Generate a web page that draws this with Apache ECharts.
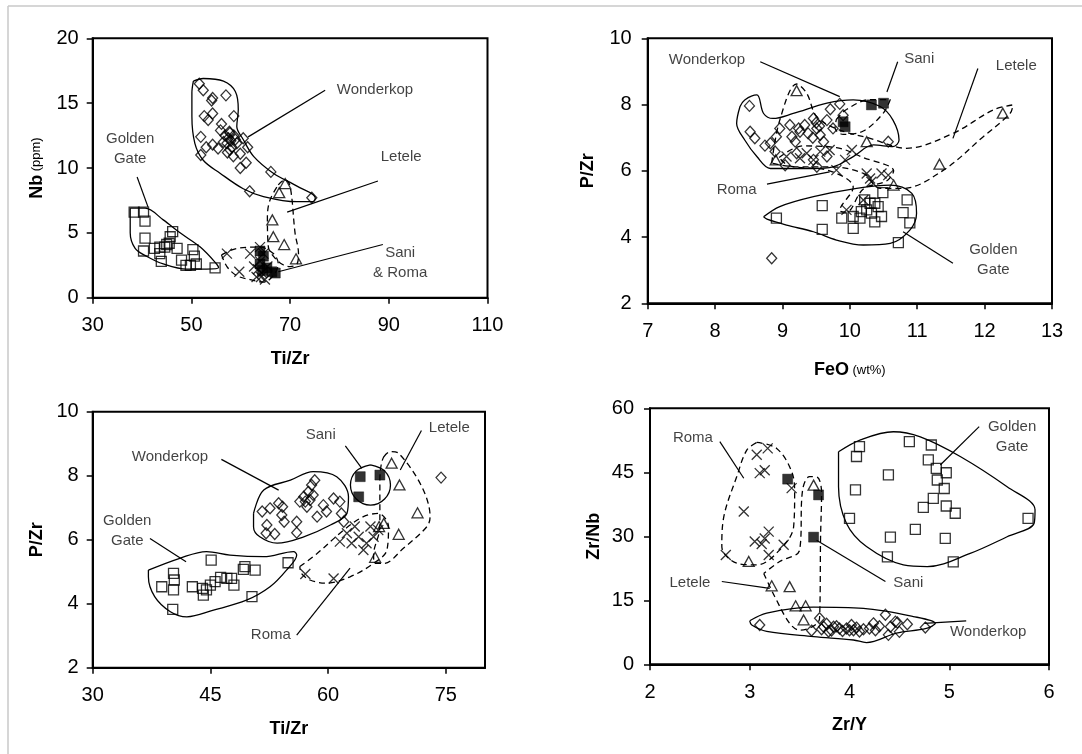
<!DOCTYPE html>
<html>
<head>
<meta charset="utf-8">
<script src="https://cdn.jsdelivr.net/npm/echarts@6/dist/echarts.min.js"></script>
<style>
html,body{margin:0;padding:0;background:#fff;}
#chart{width:1082px;height:754px;}
</style>
</head>
<body>
<div id="chart"></div>
<script>
// ===== Panel 1: Nb vs Ti/Zr =====
const p1_wonderkop = [[51.6,16.5],[52.4,16.0],[54.3,15.4],[54.1,15.2],[57.0,15.6],[52.6,14.0],[53.4,13.7],[54.3,14.2],[56.1,13.4],[58.6,14.0],[51.9,12.4],[53.0,11.6],[54.3,11.8],[55.4,11.5],[57.8,12.7],[57.8,11.4],[58.5,10.9],[60.5,12.3],[61.4,11.6],[59.9,11.1],[51.9,11.0],[61.1,10.4],[59.9,10.0],[66.1,9.7],[61.8,8.2],[74.4,7.7],[56.8,12.5],[57.5,12.3],[57.2,11.9],[58.2,11.6],[56.5,12.0],[57.7,12.8],[55.9,12.9],[58.9,12.2],[59.2,11.9],[58.6,12.5],[57.3,11.2],[58.0,12.1]];
const p1_golden = [[38.4,6.6],[40.3,6.6],[40.6,5.9],[40.6,4.6],[40.3,3.6],[42.5,3.8],[43.6,3.9],[43.9,2.8],[45.0,4.1],[44.6,3.9],[45.7,4.7],[46.2,5.1],[45.5,4.2],[47.1,3.8],[48.0,2.9],[48.9,2.5],[49.8,2.5],[50.3,3.7],[50.6,3.2],[51.0,2.6],[54.8,2.3],[43.6,3.4]];
const p1_letele = [[69.0,8.8],[67.8,8.1],[66.4,6.0],[66.6,4.7],[68.8,4.1],[71.2,3.0]];
const p1_roma = [[57.2,3.4],[59.7,2.0],[61.9,3.4],[62.7,2.4],[63.2,1.6],[63.9,2.8],[64.3,1.9],[64.6,3.4],[64.9,1.4],[65.4,2.4],[63.9,3.9],[63.5,2.2],[64.1,1.6]];
const p1_sani = [[63.9,3.6],[63.9,2.6],[64.6,3.2],[66.3,2.0],[67.0,1.9],[65.3,2.3],[64.4,2.1]];
const p1_env_wonderkop = [[50.4,16.7],[52.4,16.9],[56.5,16.7],[58.9,15.9],[59.5,14.5],[59.2,13.2],[60.5,12.2],[62.6,10.9],[66.6,9.6],[71.4,8.6],[75.1,7.7],[74.7,7.4],[71.4,7.4],[64.6,7.8],[60.5,8.4],[55.8,9.6],[52.4,10.6],[50.7,11.9],[50.1,14.0],[50.1,15.8],[50.4,16.7]];
const p1_env_golden = [[37.6,6.9],[40.6,6.9],[44.3,6.0],[47.7,5.0],[51.8,3.9],[55.1,2.6],[55.5,2.3],[53.1,2.2],[49.1,2.2],[44.3,2.6],[40.9,3.2],[38.6,3.8],[37.6,5.0],[37.6,6.6],[37.6,6.9]];
const p1_env_letele = [[67.6,8.7],[69.0,9.1],[70.0,8.6],[71.0,5.0],[71.7,3.4],[71.4,2.6],[70.0,2.4],[68.3,2.6],[66.6,3.2],[65.6,3.9],[65.4,6.2],[65.9,7.5],[67.6,8.7]];
const p1_env_roma = [[56.1,3.3],[59.2,3.8],[63.9,3.9],[66.6,3.4],[67.6,2.6],[66.6,1.7],[64.6,1.2],[61.9,1.4],[59.2,1.7],[57.2,2.4],[56.1,3.3]];
const p1_leaders = [[[77.1,16.0],[61.5,12.4]],[[87.8,9.0],[69.4,6.6]],[[88.8,4.1],[67.6,2.0]],[[39.0,9.3],[41.2,7.0]]];
const p1_label_text = ['Wonderkop','Letele','Golden\nGate','Sani\n& Roma'];
const p1_label_pos = [[87.2,16.0],[92.5,10.85],[37.6,11.5],[92.3,2.71]];

// ===== Panel 2: P/Zr vs FeO =====
const p2_wonderkop = [[8.51,7.96],[8.52,7.18],[8.59,6.98],[8.74,6.76],[8.82,6.83],[8.89,6.58],[8.91,7.03],[8.96,7.28],[9.04,6.17],[9.11,7.38],[9.14,7.03],[9.19,6.88],[9.24,7.28],[9.33,7.38],[9.38,7.13],[9.46,7.58],[9.51,7.28],[9.56,7.08],[9.61,6.88],[9.66,7.53],[9.71,7.86],[9.75,7.28],[9.85,8.02],[9.90,7.68],[10.57,6.88],[9.66,6.43],[9.46,6.33],[9.51,6.12],[9.21,6.53],[8.84,3.36],[9.26,7.18],[9.50,7.45],[9.55,7.35],[9.45,7.00]];
const p2_golden = [[8.91,4.57],[9.59,4.95],[9.59,4.23],[9.88,4.57],[10.05,4.26],[10.05,4.62],[10.15,4.57],[10.22,5.12],[10.25,4.82],[10.30,5.02],[10.32,4.72],[10.37,4.46],[10.42,4.92],[10.47,4.62],[10.49,5.34],[10.72,3.83],[10.79,4.74],[10.85,5.12],[10.89,4.43],[10.17,4.77],[10.37,5.02]];
const p2_letele = [[9.21,8.42],[8.90,6.33],[10.25,6.88],[11.33,6.20],[10.65,5.57],[12.27,7.74]];
const p2_roma = [[9.26,6.38],[9.46,6.33],[9.56,6.58],[9.70,6.63],[9.80,6.02],[9.93,6.33],[10.03,6.63],[10.25,5.92],[10.30,5.77],[10.47,5.92],[10.57,5.87],[10.32,5.67],[9.95,4.82],[10.20,5.12],[9.06,6.43],[9.36,6.53]];
const p2_sani = [[10.32,7.99],[10.50,8.04],[9.93,7.33],[9.90,7.48]];
const p2_env_wonderkop = [[8.37,7.94],[8.44,8.14],[8.62,8.29],[8.72,7.73],[8.86,7.58],[9.16,7.73],[9.66,8.04],[10.05,8.14],[10.45,7.94],[10.64,7.53],[10.73,6.93],[10.64,6.73],[10.35,6.78],[10.05,6.43],[9.75,6.12],[9.46,6.07],[9.16,6.07],[8.82,6.07],[8.62,6.43],[8.44,6.93],[8.32,7.43],[8.37,7.94]];
const p2_env_golden = [[8.72,4.61],[8.96,4.92],[9.46,5.22],[10.10,5.47],[10.60,5.57],[10.92,5.32],[10.99,4.72],[10.89,4.21],[10.60,3.81],[10.20,3.76],[9.80,3.91],[9.46,4.16],[9.06,4.36],[8.77,4.54],[8.72,4.61]];
const p2_env_letele = [[8.84,6.23],[8.96,7.53],[9.21,8.62],[9.36,8.34],[9.51,7.63],[9.85,7.23],[10.30,6.98],[10.84,6.68],[11.53,7.13],[12.13,7.84],[12.42,7.99],[12.38,7.74],[11.98,7.03],[11.39,6.02],[10.79,5.47],[10.45,5.47],[10.20,5.92],[9.70,6.12],[9.21,6.12],[8.84,6.23]];
const p2_env_roma = [[8.95,6.40],[9.30,6.75],[9.80,6.70],[10.20,6.40],[10.65,6.00],[10.55,5.70],[10.20,5.45],[9.95,4.75],[9.85,4.80],[10.05,5.50],[9.70,6.00],[9.10,6.15],[8.95,6.40]];
const p2_env_sani = [[9.80,7.55],[9.95,7.85],[10.30,8.15],[10.60,8.15],[10.50,7.75],[10.20,7.20],[9.90,7.10],[9.78,7.30],[9.80,7.55]];
const p2_leaders = [[[8.67,9.29],[9.85,8.24]],[[10.71,9.29],[10.55,8.38]],[[11.90,9.09],[11.53,6.98]],[[8.77,5.60],[9.70,5.97]],[[11.53,3.21],[10.79,4.16]]];
const p2_label_text = ['Wonderkop','Sani','Letele','Roma','Golden\nGate'];
const p2_label_pos = [[7.88,9.34],[11.03,9.37],[12.47,9.16],[8.32,5.42],[12.13,3.31]];

// ===== Panel 3: P/Zr vs Ti/Zr =====
const p3_golden = [[38.8,4.53],[40.3,4.95],[40.4,4.74],[40.3,4.43],[40.2,3.82],[42.7,4.53],[44.0,4.48],[44.1,4.27],[44.5,4.43],[45.1,5.36],[45.0,4.58],[45.6,4.69],[46.3,4.82],[47.1,4.79],[47.7,4.79],[48.0,4.58],[49.2,5.07],[49.4,5.16],[50.7,5.05],[50.3,4.22],[54.9,5.28]];
const p3_wonderkop = [[51.6,6.88],[52.6,6.98],[53.7,7.14],[54.2,7.03],[54.1,6.77],[54.4,6.56],[52.2,6.46],[52.1,6.20],[53.2,6.18],[56.0,6.22],[56.0,6.56],[56.4,7.19],[56.9,7.34],[57.5,7.50],[57.9,7.71],[58.3,7.86],[57.7,7.24],[57.3,7.03],[58.6,6.72],[59.4,7.08],[59.8,6.88],[60.7,7.29],[61.5,7.19],[61.7,6.82],[62.0,6.56],[74.4,7.94],[58.1,7.40],[57.1,7.19]];
const p3_sani = [[64.1,7.97],[66.6,8.02],[63.9,7.34]];
const p3_letele = [[68.1,8.39],[69.1,7.71],[71.4,6.84],[69.0,6.17],[67.1,6.51],[66.0,5.45],[66.5,6.41]];
const p3_roma = [[57.1,4.93],[60.7,4.79],[61.5,5.94],[62.4,6.20],[63.0,5.89],[63.4,6.41],[63.9,6.09],[64.5,5.68],[65.4,6.41],[65.8,6.09],[66.4,6.30],[64.9,5.89]];
const p3_env_golden = [[37.1,5.05],[41.1,5.42],[44.5,5.63],[47.5,5.52],[51.8,5.47],[55.6,5.63],[56.0,5.52],[54.7,5.05],[52.6,4.53],[49.6,4.11],[45.4,3.80],[42.0,3.59],[39.9,3.75],[37.9,4.22],[37.1,4.84],[37.1,5.05]];
const p3_env_wonderkop = [[50.5,6.82],[51.8,7.55],[55.2,7.86],[58.1,8.13],[61.1,7.97],[62.6,7.34],[62.4,6.82],[60.3,6.46],[56.9,6.09],[53.5,5.89],[51.3,6.09],[50.5,6.40],[50.5,6.82]];
const p3_env_sani = [[65.4,8.34],[67.2,8.15],[67.95,7.71],[67.2,7.27],[65.4,7.08],[63.6,7.27],[62.85,7.71],[63.6,8.15],[65.4,8.34]];
const p3_env_letele = [[67.1,8.59],[67.9,8.75],[69.0,8.70],[73.0,6.72],[72.6,6.41],[69.6,5.73],[67.1,5.26],[66.0,5.26],[65.8,5.52],[66.6,6.41],[66.6,7.86],[66.8,8.39],[67.1,8.59]];
const p3_env_roma = [[56.4,5.16],[58.6,5.57],[62.0,6.30],[64.5,6.72],[66.4,6.82],[67.7,6.41],[67.5,5.68],[65.8,5.26],[62.8,4.84],[59.8,4.64],[57.7,4.74],[56.6,4.95],[56.4,5.16]];
const p3_leaders = [[[46.4,8.51],[53.7,7.55]],[[37.3,6.04],[41.9,5.31]],[[62.2,8.93],[64.3,8.23]],[[71.9,9.41],[69.2,8.18]],[[56.0,3.02],[62.8,5.11]]];
const p3_label_text = ['Wonderkop','Golden\nGate','Sani','Letele','Roma'];
const p3_label_pos = [[39.85,8.58],[34.4,6.29],[59.06,9.27],[75.45,9.51],[52.7,3.02]];

// ===== Panel 4: Zr/Nb vs Zr/Y =====
const p4_roma = [[3.07,49.1],[3.18,50.6],[3.15,45.5],[3.10,44.8],[2.94,35.8],[2.76,25.6],[3.19,31.1],[3.15,29.5],[3.05,28.8],[3.12,28.2],[3.19,25.6],[3.34,28.0],[3.42,41.3]];
const p4_sani = [[3.38,43.4],[3.69,39.7],[3.64,29.8]];
const p4_letele = [[2.99,24.1],[3.22,18.4],[3.40,18.2],[3.46,13.7],[3.56,13.7],[3.54,10.4],[3.64,42.0]];
const p4_golden = [[4.10,51.0],[4.07,48.7],[4.60,52.2],[4.82,51.4],[4.79,47.9],[4.87,45.9],[4.97,44.9],[4.88,43.2],[4.95,41.2],[4.84,38.9],[4.74,36.8],[4.97,37.1],[5.06,35.4],[4.39,44.4],[4.06,40.9],[4.00,34.2],[4.41,29.8],[4.66,31.6],[4.96,29.5],[4.38,25.2],[5.04,24.0],[5.79,34.2]];
const p4_wonderkop = [[3.10,9.2],[3.62,7.9],[3.70,10.8],[3.74,8.8],[3.79,7.7],[3.84,8.8],[3.90,8.4],[3.97,8.4],[4.02,9.2],[4.04,8.0],[4.10,7.7],[4.20,8.4],[4.24,9.6],[4.36,11.6],[4.41,8.8],[4.46,10.0],[4.48,9.8],[4.58,9.4],[4.76,8.6],[4.39,6.9],[4.26,8.0],[3.77,9.5],[3.82,7.9],[3.87,8.9],[3.93,7.8],[4.00,8.0],[4.07,8.6],[4.14,8.2],[4.30,8.9],[4.50,7.6],[3.72,8.2]];
const p4_env_roma = [[3.07,52.0],[3.27,50.6],[3.42,45.2],[3.45,40.1],[3.44,32.3],[3.30,26.8],[3.07,23.3],[2.87,23.7],[2.72,27.6],[2.74,34.6],[2.87,44.0],[2.97,50.2],[3.07,52.0]];
const p4_env_letele = [[3.14,21.3],[3.25,15.9],[3.40,9.6],[3.50,8.0],[3.70,10.8],[3.71,29.9],[3.72,40.1],[3.68,43.8],[3.60,44.0],[3.53,40.9],[3.50,26.8],[3.30,24.1],[3.14,21.3]];
const p4_env_golden = [[3.89,49.8],[4.11,52.6],[4.44,54.5],[4.71,53.3],[5.11,48.7],[5.58,41.6],[5.86,36.2],[5.85,33.0],[5.58,29.9],[5.21,26.0],[4.78,22.9],[4.54,23.3],[4.17,27.6],[3.97,33.0],[3.89,41.6],[3.89,49.8]];
const p4_env_wonderkop = [[3.00,10.2],[3.17,12.0],[3.64,13.4],[4.14,13.1],[4.64,11.2],[4.86,9.6],[4.77,8.4],[4.47,7.3],[4.17,5.1],[4.04,5.7],[3.64,6.5],[3.17,7.7],[3.02,9.2],[3.00,10.2]];
const p4_leaders = [[[2.70,52.2],[2.94,43.6]],[[2.72,19.4],[3.20,17.8]],[[4.36,19.4],[3.67,29.1]],[[5.30,55.7],[4.91,46.7]],[[4.75,9.6],[5.17,10.2]]];
const p4_label_text = ['Roma','Letele','Sani','Golden\nGate','Wonderkop'];
const p4_label_pos = [[2.43,53.0],[2.40,19.2],[4.59,19.2],[5.63,53.3],[5.39,7.5]];

// Axis tick values
const p1_xticks = [30,50,70,90,110];
const p3_xticks = [30,45,60,75];

// ===== Build chart =====
const FONT = '"Liberation Sans", Arial, Helvetica, sans-serif';
const chart = echarts.init(document.getElementById('chart'), null, {renderer:'canvas'});

const hollow = {color:'rgba(0,0,0,0)', borderColor:'#000', borderWidth:1.3};
const SYM = {
  diamond: {symbol:'diamond', symbolSize:[10,11], itemStyle:hollow},
  square: {symbol:'rect', symbolSize:10, itemStyle:hollow},
  triangle: {symbol:'triangle', symbolSize:[11,10], itemStyle:hollow},
  cross: {symbol:'path://M0,0L10,10M10,0L0,10', symbolSize:10, itemStyle:{color:'rgba(0,0,0,0)', borderColor:'#000', borderWidth:1.3}},
  filled: {symbol:'rect', symbolSize:10, itemStyle:{color:'#000', borderColor:'#000', borderWidth:0.5}}
};

const series = [];
function pts(gi, data, kind){
  const s = SYM[kind];
  series.push({type:'scatter', xAxisIndex:gi, yAxisIndex:gi, data:data, symbol:s.symbol, symbolSize:s.symbolSize, itemStyle:s.itemStyle, z:3, silent:true});
}
function env(gi, data, dashed){
  series.push({type:'line', xAxisIndex:gi, yAxisIndex:gi, data:data, smooth:0.35, symbol:'none', z:2, silent:true,
    lineStyle:{color:'#000', width:1.3, type: dashed ? [6,4] : 'solid'}});
}
function leaders(gi, list){
  list.forEach(function(seg){
    series.push({type:'line', xAxisIndex:gi, yAxisIndex:gi, data:seg, symbol:'none', z:2, silent:true,
      lineStyle:{color:'#000', width:1.2}});
  });
}
function labels(gi, texts, pos){
  series.push({type:'scatter', xAxisIndex:gi, yAxisIndex:gi, symbolSize:1, itemStyle:{color:'rgba(0,0,0,0)'}, z:4, silent:true,
    data: texts.map(function(t,i){ return {name:t, value:pos[i]}; }),
    label:{show:true, position:'inside', formatter:'{b}', color:'#111', fontSize:15, fontFamily:FONT, lineHeight:20, align:'center'}});
}

// panel 1
env(0, p1_env_wonderkop, false); env(0, p1_env_golden, false); env(0, p1_env_letele, true); env(0, p1_env_roma, true);
leaders(0, p1_leaders); labels(0, p1_label_text, p1_label_pos);
pts(0, p1_wonderkop, 'diamond'); pts(0, p1_golden, 'square'); pts(0, p1_letele, 'triangle'); pts(0, p1_roma, 'cross'); pts(0, p1_sani, 'filled');
// panel 2
env(1, p2_env_wonderkop, false); env(1, p2_env_golden, false); env(1, p2_env_letele, true); env(1, p2_env_roma, true); env(1, p2_env_sani, true);
leaders(1, p2_leaders); labels(1, p2_label_text, p2_label_pos);
pts(1, p2_wonderkop, 'diamond'); pts(1, p2_golden, 'square'); pts(1, p2_letele, 'triangle'); pts(1, p2_roma, 'cross'); pts(1, p2_sani, 'filled');
// panel 3
env(2, p3_env_golden, false); env(2, p3_env_wonderkop, false); env(2, p3_env_sani, false); env(2, p3_env_letele, true); env(2, p3_env_roma, true);
leaders(2, p3_leaders); labels(2, p3_label_text, p3_label_pos);
pts(2, p3_wonderkop, 'diamond'); pts(2, p3_golden, 'square'); pts(2, p3_letele, 'triangle'); pts(2, p3_roma, 'cross'); pts(2, p3_sani, 'filled');
// panel 4
env(3, p4_env_golden, false); env(3, p4_env_wonderkop, false); env(3, p4_env_roma, true); env(3, p4_env_letele, true);
leaders(3, p4_leaders); labels(3, p4_label_text, p4_label_pos);
pts(3, p4_wonderkop, 'diamond'); pts(3, p4_golden, 'square'); pts(3, p4_letele, 'triangle'); pts(3, p4_roma, 'cross'); pts(3, p4_sani, 'filled');

const axisLine = {show:true, onZero:false, lineStyle:{color:'#000', width:2}};
const axisTick = {show:true, length:6, lineStyle:{color:'#000', width:1.5}};
const labelStyle = {color:'#000', fontSize:20, fontFamily:FONT};
const nameRich = {b:{fontWeight:'bold', fontSize:18, fontFamily:FONT, color:'#000'}, n:{fontSize:13, fontFamily:FONT, color:'#000'}};

function xAxis(gi, min, max, interval, name, gap, ticks){
  const a = {type:'value', gridIndex:gi, min:min, max:max, interval:interval,
    axisLine:axisLine, axisTick:Object.assign({}, axisTick), splitLine:{show:false},
    axisLabel:Object.assign({margin:18}, labelStyle),
    name:name, nameLocation:'middle', nameGap:gap, nameTextStyle:{rich:nameRich}};
  if (ticks){ a.axisTick.customValues = ticks; a.axisLabel.customValues = ticks; delete a.interval; }
  return a;
}
function yAxis(gi, min, max, interval, name, gap, margin){
  return {type:'value', gridIndex:gi, min:min, max:max, interval:interval,
    axisLine:axisLine, axisTick:axisTick, splitLine:{show:false},
    axisLabel:Object.assign({margin:margin}, labelStyle),
    name:name, nameLocation:'middle', nameGap:gap, nameRotate:90, nameTextStyle:{rich:nameRich}};
}

const gridBase = {show:true, borderColor:'#000', borderWidth:2, backgroundColor:'rgba(0,0,0,0)', containLabel:false};

chart.setOption({
  animation:false,
  backgroundColor:'#fff',
  textStyle:{fontFamily:FONT},
  graphic:[
    {type:'line', shape:{x1:8, y1:6, x2:1082, y2:6}, style:{stroke:'#c8c8c8', lineWidth:1.5}},
    {type:'line', shape:{x1:8, y1:6, x2:8, y2:754}, style:{stroke:'#c8c8c8', lineWidth:1.5}}
  ],
  grid:[
    Object.assign({left:92.7, top:38.3, width:394.8, height:259.4}, gridBase),
    Object.assign({left:647.7, top:38.3, width:404.3, height:265}, gridBase),
    Object.assign({left:92.7, top:411.7, width:392.3, height:256}, gridBase),
    Object.assign({left:650, top:408.3, width:399, height:256}, gridBase)
  ],
  xAxis:[
    xAxis(0, 30, 110, 10, '{b|Ti/Zr}', 52, p1_xticks),
    xAxis(1, 7, 13, 1, '{b|FeO} {n|(wt%)}', 58, null),
    xAxis(2, 30, 80, 5, '{b|Ti/Zr}', 52, p3_xticks),
    xAxis(3, 2, 6, 1, '{b|Zr/Y}', 52, null)
  ],
  yAxis:[
    yAxis(0, 0, 20, 5, '{b|Nb} {n|(ppm)}', 47, 14),
    yAxis(1, 2, 10, 2, '{b|P/Zr}', 51, 16),
    yAxis(2, 2, 10, 2, '{b|P/Zr}', 47, 14),
    yAxis(3, 0, 60, 15, '{b|Zr/Nb}', 47, 16)
  ],
  series:series
});
</script>
</body>
</html>
